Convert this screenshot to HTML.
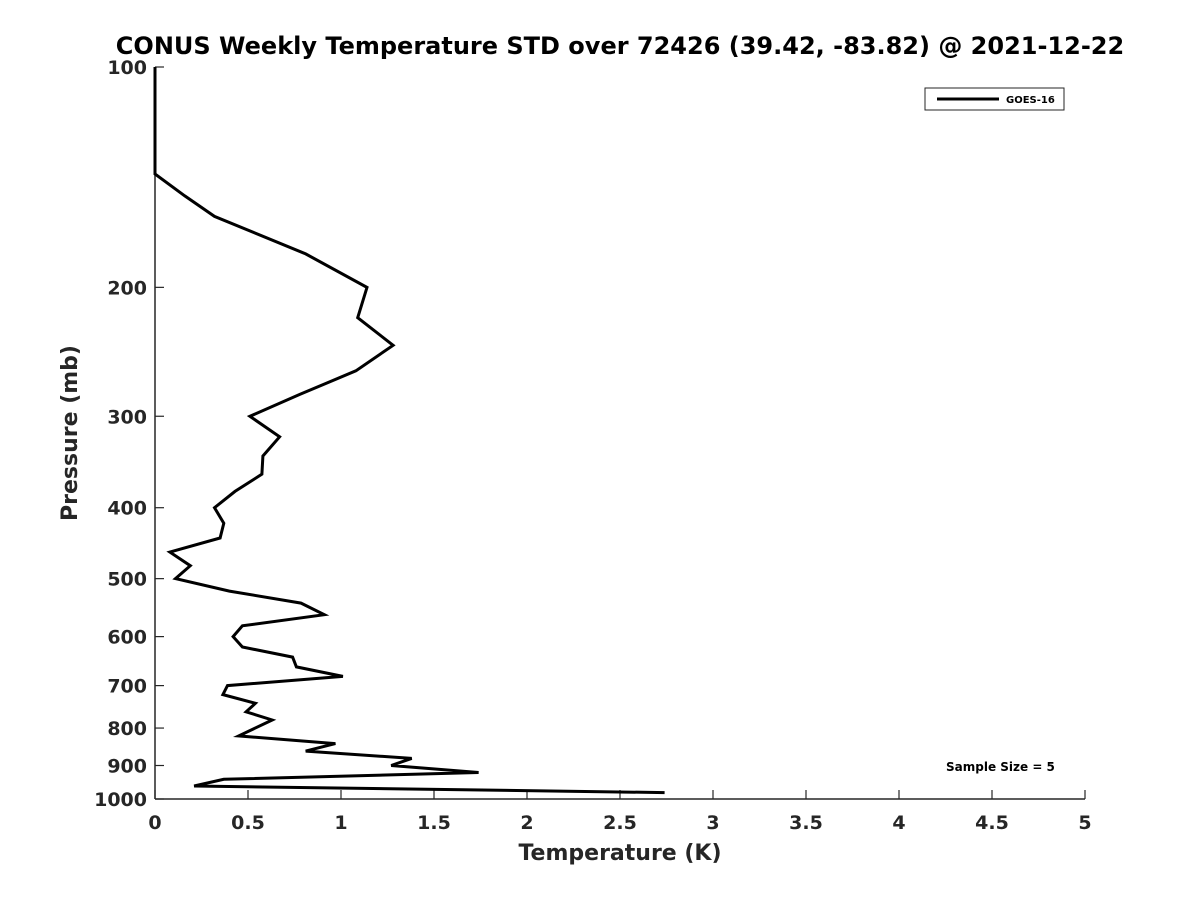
<!DOCTYPE html>
<html><head><meta charset="utf-8"><style>
html,body{margin:0;padding:0;background:#fff;}
svg{display:block;font-family:"DejaVu Sans","Liberation Sans",sans-serif;font-weight:bold;}
</style></head><body>
<svg id="chart" width="1200" height="900" viewBox="0 0 1200 900" xmlns="http://www.w3.org/2000/svg">
<rect width="1200" height="900" fill="#fff"/>
<text x="620" y="54" text-anchor="middle" font-size="24" fill="#000">CONUS Weekly Temperature STD over 72426 (39.42, -83.82) @ 2021-12-22</text>
<g id="axes"></g>
<g id="series"></g>
<text x="620" y="860" text-anchor="middle" font-size="22" fill="#262626">Temperature (K)</text>
<text transform="translate(77,433) rotate(-90)" text-anchor="middle" font-size="22" fill="#262626">Pressure (mb)</text>
<g>
<rect x="925" y="88" width="139" height="22" fill="#fff" stroke="#262626" stroke-width="1"/>
<line x1="937" y1="99" x2="999" y2="99" stroke="#000" stroke-width="3"/>
<text x="1006" y="103" font-size="10" fill="#000">GOES-16</text>
</g>
<text x="946" y="771" font-size="12" fill="#000">Sample Size = 5</text>
</svg>
<script>
const pressures = [100,140,150,160,180,200,220,240,260,280,300,320,340,360,380,400,420,440,460,480,500,520,540,560,580,600,620,640,660,680,700,720,740,760,780,820,840,860,880,900,920,940,960,980];
const stdValues = [0,0,0.16,0.32,0.81,1.14,1.09,1.28,1.08,0.78,0.51,0.67,0.58,0.575,0.43,0.32,0.37,0.35,0.08,0.19,0.11,0.40,0.785,0.91,0.47,0.42,0.47,0.74,0.76,1.01,0.39,0.365,0.54,0.49,0.63,0.45,0.97,0.81,1.38,1.27,1.74,0.37,0.21,2.74];
const xTicks = [0,0.5,1,1.5,2,2.5,3,3.5,4,4.5,5];
const xTickLabels = ["0","0.5","1","1.5","2","2.5","3","3.5","4","4.5","5"];
const yTicks = [100,200,300,400,500,600,700,800,900,1000];
const yTickLabels = ["100","200","300","400","500","600","700","800","900","1000"];

const X0=155, X1=1085, Y0=67, Y1=799;
const xScale = v => X0 + (v/5)*(X1-X0);
const yScale = p => Y0 + (Math.log10(p)-2)*(Y1-Y0);
const NS="http://www.w3.org/2000/svg";
const axes=document.getElementById('axes');
function mk(tag,attrs,parent){const e=document.createElementNS(NS,tag);for(const k in attrs)e.setAttribute(k,attrs[k]);parent.appendChild(e);return e;}

const xAxis=mk('line',{x1:X0,y1:Y1,x2:X1,y2:Y1,stroke:'#262626','stroke-width':1.5},axes);


const yAxis=mk('line',{x1:X0,y1:Y0,x2:X0,y2:Y1,stroke:'#262626','stroke-width':1.5},axes);



xTicks.forEach((v,i)=>{
  const x=xScale(v);
  const t=mk('line',{x1:x,y1:Y1,x2:x,y2:Y1-9,stroke:'#262626','stroke-width':1.2},axes);
  
  
  const l=mk('text',{x:x,y:Y1+30,'text-anchor':'middle','font-size':19,fill:'#262626'},axes);
  l.textContent=xTickLabels[i];
  
  
});
yTicks.forEach((p,i)=>{
  const y=yScale(p);
  const t=mk('line',{x1:X0,y1:y,x2:X0+9,y2:y,stroke:'#262626','stroke-width':1.2},axes);
  
  
  const l=mk('text',{x:X0-8,y:y+7,'text-anchor':'end','font-size':19,fill:'#262626'},axes);
  l.textContent=yTickLabels[i];
  
  
});

const pts=pressures.map((p,i)=>xScale(stdValues[i]).toFixed(1)+','+yScale(p).toFixed(1)).join(' ');
const line=mk('polyline',{points:pts,fill:'none',stroke:'#000','stroke-width':3,'stroke-linejoin':'miter'},document.getElementById('series'));


</script>
</body></html>
